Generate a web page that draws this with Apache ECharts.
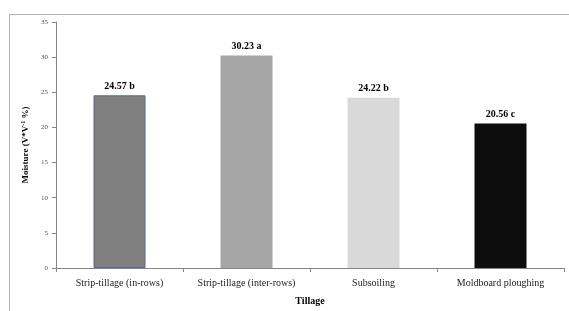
<!DOCTYPE html>
<html><head><meta charset="utf-8">
<script src="https://cdn.jsdelivr.net/npm/echarts@6/dist/echarts.min.js"></script>
<style>html,body{margin:0;padding:0;background:#fff}#c{width:569px;height:311px}</style>
</head><body><div id="c"></div>
<script>
const categories = ['Strip-tillage (in-rows)', 'Strip-tillage (inter-rows)', 'Subsoiling', 'Moldboard ploughing'];
const values = [24.57, 30.23, 24.22, 20.56];
const letters = ['b', 'a', 'b', 'c'];
const barColors = ['#808080', '#a6a6a6', '#d9d9d9', '#0d0d0d'];
const yTicks = [0, 5, 10, 15, 20, 25, 30, 35];

const serif = '"Liberation Serif", "DejaVu Serif", serif';
const chart = echarts.init(document.getElementById('c'), null, {renderer: 'canvas'});
chart.setOption({
  animation: false,
  backgroundColor: '#fff',
  graphic: [{
    type: 'rect', left: 7, top: 12, z: -1,
    shape: {width: 700, height: 400},
    style: {fill: 'none', stroke: '#b3b3b3', lineWidth: 1}
  }],
  grid: {left: 56, right: 5, top: 22, bottom: 35},
  xAxis: {
    type: 'category',
    data: categories,
    name: 'Tillage',
    nameLocation: 'middle',
    nameGap: 28,
    nameTextStyle: {fontFamily: serif, fontWeight: 'bold', fontSize: 10, color: '#000'},
    axisLine: {lineStyle: {color: '#868686', width: 1}},
    axisTick: {show: true, length: 4, lineStyle: {color: '#868686'}},
    axisLabel: {fontFamily: serif, fontSize: 10, color: '#222', margin: 10, interval: 0}
  },
  yAxis: {
    type: 'value',
    min: yTicks[0], max: yTicks[yTicks.length - 1], interval: 5,
    name: '{b|Moisture (V*V}{s|-1}{b| %)}',
    nameLocation: 'middle',
    nameGap: 24,
    nameRotate: 90,
    nameTextStyle: {
      rich: {
        b: {fontFamily: serif, fontWeight: 'bold', fontSize: 9, color: '#000'},
        s: {fontFamily: serif, fontWeight: 'bold', fontSize: 6, color: '#000', verticalAlign: 'top', padding: [0, 0, 4, 0]}
      }
    },
    splitLine: {show: false},
    axisLine: {show: true, lineStyle: {color: '#868686', width: 1}},
    axisTick: {show: true, length: 4, lineStyle: {color: '#868686'}},
    axisLabel: {fontFamily: serif, fontSize: 7, color: '#555', margin: 8}
  },
  series: [{
    type: 'bar',
    barWidth: 52,
    data: values.map((v, i) => ({
      value: v,
      itemStyle: {color: barColors[i], borderColor: i === 0 ? '#4f6b8a' : barColors[i], borderWidth: i === 0 ? 1 : 0}
    })),
    label: {
      show: true, position: 'top', distance: 4,
      fontFamily: serif, fontWeight: 'bold', fontSize: 10, color: '#000',
      formatter: p => values[p.dataIndex].toFixed(2) + ' ' + letters[p.dataIndex]
    }
  }]
});
</script></body></html>
